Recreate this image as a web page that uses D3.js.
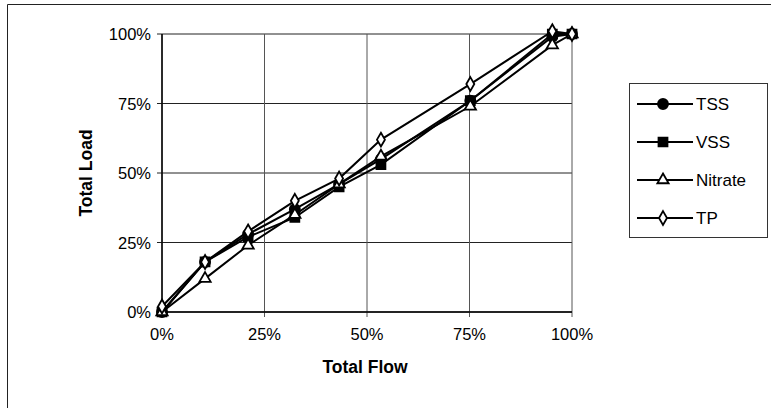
<!DOCTYPE html>
<html>
<head>
<meta charset="utf-8">
<script src="https://cdn.jsdelivr.net/npm/d3@7"></script>
<style>
  body { margin: 0; background: #fff; }
  svg { font-family: "Liberation Sans", Arial, sans-serif; }
</style>
</head>
<body>
<svg id="chart" width="771" height="410"></svg>
<script>
// cumulative flow fractions (x) and load fractions per series (y)
const flow = [0, 10.5, 21, 32.4, 43.2, 53.4, 75.2, 95.2, 100];
const tss = [0, 18, 28, 37, 46, 55, 76, 99, 100];
const vss = [0, 18, 27, 34, 45, 53, 76, 100, 100];
const nitrate = [0, 12, 24, 35, 46, 56, 74, 96, 100];
const tp = [2, 18, 29, 40, 48, 62, 82, 101, 100];
const ticks = [0, 25, 50, 75, 100];

const series = [
    { name: "TSS", values: tss, symbol: d3.symbolCircle, size: 80, fill: "#000" },
    { name: "VSS", values: vss, symbol: d3.symbolSquare, size: 80, fill: "#000" },
    { name: "Nitrate", values: nitrate, symbol: d3.symbolTriangle, size: 55, fill: "#fff" },
    { name: "TP", values: tp, symbol: d3.symbolDiamond, size: 55, fill: "#fff" }
];

const svg = d3.select("#chart");
const plot = { left: 162, right: 572, top: 34, bottom: 312 };

// outer frame
svg.append("path")
    .attr("d", "M7.5,408 L7.5,4.5 L771,4.5")
    .attr("fill", "none")
    .attr("stroke", "#222")
    .attr("stroke-width", 1);

const x = d3.scaleLinear().domain([0, 100]).range([plot.left, plot.right]);
const y = d3.scaleLinear().domain([0, 100]).range([plot.bottom, plot.top]);

// gridlines
svg.append("g").selectAll("line")
    .data(ticks)
    .enter().append("line")
    .attr("x1", plot.left - 5).attr("x2", plot.right)
    .attr("y1", d => y(d)).attr("y2", d => y(d))
    .attr("stroke", "#222").attr("stroke-width", 1);

svg.append("g").selectAll("line")
    .data(ticks)
    .enter().append("line")
    .attr("x1", d => x(d)).attr("x2", d => x(d))
    .attr("y1", plot.top).attr("y2", plot.bottom + 5)
    .attr("stroke", "#555").attr("stroke-width", 1);

// axis lines
svg.append("line")
    .attr("x1", plot.left).attr("x2", plot.left)
    .attr("y1", plot.top).attr("y2", plot.bottom)
    .attr("stroke", "#000").attr("stroke-width", 1.5);
svg.append("line")
    .attr("x1", plot.left).attr("x2", plot.right)
    .attr("y1", plot.bottom).attr("y2", plot.bottom)
    .attr("stroke", "#000").attr("stroke-width", 1.5);

// tick labels
svg.append("g").selectAll("text")
    .data(ticks)
    .enter().append("text")
    .attr("x", 151)
    .attr("y", d => y(d) + 6)
    .attr("text-anchor", "end")
    .style("font-size", "16.5px")
    .text(d => d + "%");

svg.append("g").selectAll("text")
    .data(ticks)
    .enter().append("text")
    .attr("x", d => x(d))
    .attr("y", 340)
    .attr("text-anchor", "middle")
    .style("font-size", "16.5px")
    .text(d => d + "%");

// axis titles
svg.append("text")
    .attr("x", 365).attr("y", 373)
    .attr("text-anchor", "middle")
    .style("font-size", "17.5px").style("font-weight", "bold")
    .text("Total Flow");

svg.append("text")
    .attr("transform", "translate(92," + ((plot.top + plot.bottom) / 2) + ") rotate(-90)")
    .attr("text-anchor", "middle")
    .style("font-size", "17.5px").style("font-weight", "bold")
    .text("Total Load");

// lines and markers
const line = d3.line()
    .x((d, i) => x(flow[i]))
    .y(d => y(d));

series.forEach(s => {
    svg.append("path")
        .attr("d", line(s.values))
        .attr("fill", "none")
        .attr("stroke", "#000")
        .attr("stroke-width", 2);
});

series.forEach(s => {
    svg.append("g").selectAll("path")
        .data(s.values)
        .enter().append("path")
        .attr("d", d3.symbol().type(s.symbol).size(s.size))
        .attr("transform", (d, i) => `translate(${x(flow[i])},${y(d)})`)
        .attr("fill", s.fill)
        .attr("stroke", "#000")
        .attr("stroke-width", 1.8);
});

// legend
const legend = svg.append("g");
legend.append("rect")
    .attr("x", 629.5).attr("y", 83.5)
    .attr("width", 138).attr("height", 154)
    .attr("fill", "#fff")
    .attr("stroke", "#333").attr("stroke-width", 1);

const legendY = [104, 142, 180, 218];
series.forEach((s, i) => {
    const g = legend.append("g").attr("transform", `translate(0,${legendY[i]})`);
    g.append("line")
        .attr("x1", 637).attr("x2", 693)
        .attr("y1", 0).attr("y2", 0)
        .attr("stroke", "#000").attr("stroke-width", 2);
    g.append("path")
        .attr("d", d3.symbol().type(s.symbol).size(s.size))
        .attr("transform", "translate(663,0)")
        .attr("fill", s.fill)
        .attr("stroke", "#000")
        .attr("stroke-width", 1.8);
    g.append("text")
        .attr("x", 696).attr("y", 6)
        .style("font-size", "17px")
        .text(s.name);
});
</script>
</body>
</html>
